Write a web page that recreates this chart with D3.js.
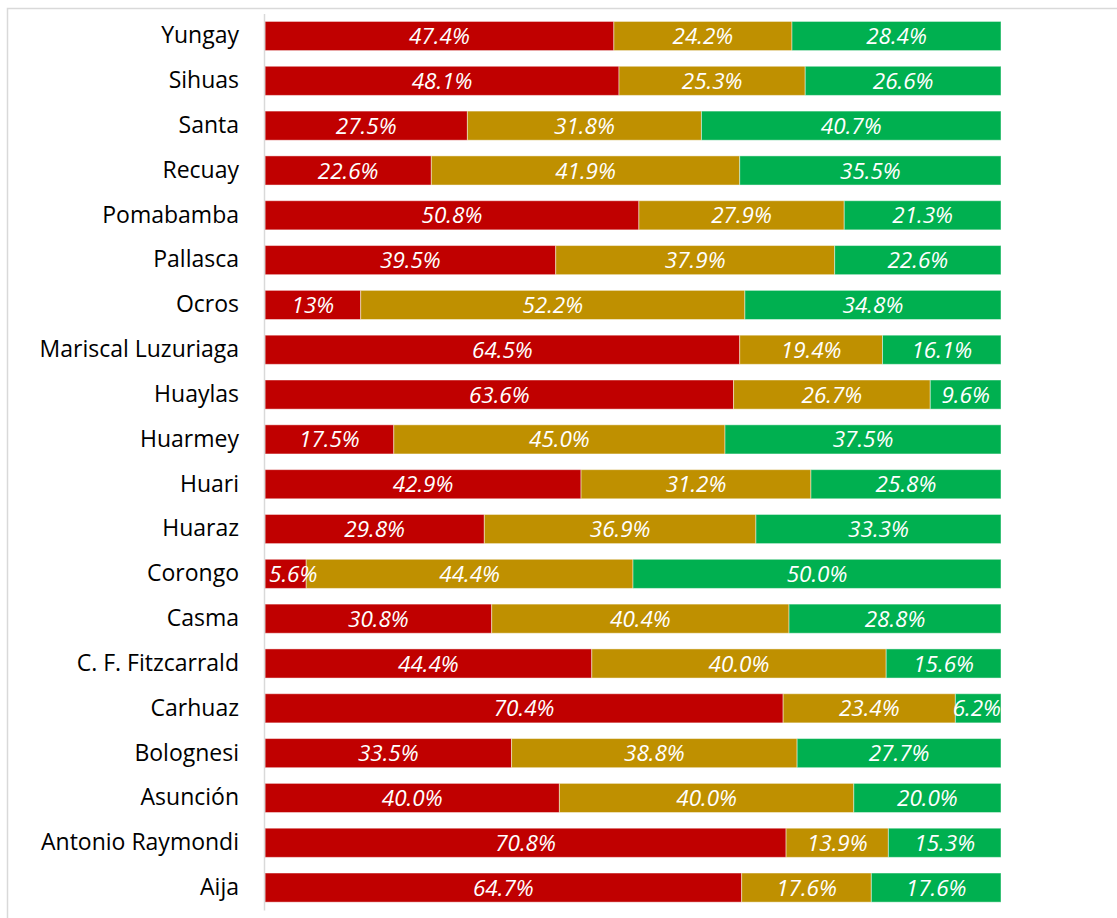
<!DOCTYPE html>
<html>
<head>
<meta charset="utf-8">
<script src="https://cdn.jsdelivr.net/npm/d3@7"></script>
<style>
  body { margin: 0; background: #fff; }
  svg { display: block; }
</style>
</head>
<body>
<svg id="chart"></svg>
<script>
// provinces, top to bottom
var provinces = ["Yungay", "Sihuas", "Santa", "Recuay", "Pomabamba", "Pallasca", "Ocros",
  "Mariscal Luzuriaga", "Huaylas", "Huarmey", "Huari", "Huaraz", "Corongo", "Casma",
  "C. F. Fitzcarrald", "Carhuaz", "Bolognesi", "Asunción", "Antonio Raymondi", "Aija"];

var redValues   = [47.4, 48.1, 27.5, 22.6, 50.8, 39.5, 13,   64.5, 63.6, 17.5, 42.9, 29.8, 5.6,  30.8, 44.4, 70.4, 33.5, 40.0, 70.8, 64.7];
var goldValues  = [24.2, 25.3, 31.8, 41.9, 27.9, 37.9, 52.2, 19.4, 26.7, 45.0, 31.2, 36.9, 44.4, 40.4, 40.0, 23.4, 38.8, 40.0, 13.9, 17.6];
var greenValues = [28.4, 26.6, 40.7, 35.5, 21.3, 22.6, 34.8, 16.1, 9.6,  37.5, 25.8, 33.3, 50.0, 28.8, 15.6, 6.2,  27.7, 20.0, 15.3, 17.6];

// labels printed without a decimal
var wholeLabels = ["13"];

var seriesKeys = ["red", "gold", "green"];
var seriesColors = ["#c00000", "#bf9000", "#00b050"];

var width = 1117, height = 918;
var svg = d3.select("#chart").attr("width", width).attr("height", height);

// chart area frame
svg.append("rect")
  .attr("x", 7.5).attr("y", 8.5)
  .attr("width", width + 10).attr("height", height + 10)
  .attr("fill", "none").attr("stroke", "#d9d9d9").attr("stroke-width", 1.5);

var rows = provinces.map(function (p, i) {
  return { name: p, red: redValues[i], gold: goldValues[i], green: greenValues[i] };
});

var stack = d3.stack().keys(seriesKeys).offset(d3.stackOffsetExpand);
var series = stack(rows);

var x = d3.scaleLinear().domain([0, 1]).range([265, 1001]);
var y = d3.scaleBand().domain(provinces).range([13.6, 910]).paddingInner(0.35).paddingOuter(0.175);

var groups = svg.selectAll("g.series")
  .data(series)
  .enter().append("g")
  .attr("class", "series")
  .attr("fill", function (d, i) { return seriesColors[i]; });

groups.selectAll("rect")
  .data(function (d) { return d; })
  .enter().append("rect")
  .attr("x", function (d) { return x(d[0]); })
  .attr("y", function (d) { return y(d.data.name); })
  .attr("width", function (d) { return x(d[1]) - x(d[0]); })
  .attr("height", y.bandwidth())
  .attr("stroke", "#fff").attr("stroke-opacity", 0.45).attr("stroke-width", 1);

function fmt(v) {
  var s = String(v);
  if (wholeLabels.indexOf(s) >= 0) return s + "%";
  return v.toFixed(1) + "%";
}

// labels go on top of every bar
var labelLayer = svg.append("g").attr("class", "labels");
series.forEach(function (s) {
  labelLayer.append("g").selectAll("text")
    .data(s)
    .enter().append("text")
    .attr("y", function (d) { return y(d.data.name) + y.bandwidth() / 2; })
    .attr("dy", "0.36em")
    .attr("text-anchor", "middle")
    .attr("fill", "#fff")
    .style("font-family", "'Open Sans', sans-serif")
    .style("font-style", "italic")
    .style("font-size", "22.5px")
    .text(function (d) { return fmt(d.data[s.key]); })
    .attr("x", function (d) {
      // keep labels inside the plot area, like Excel does
      var half = this.getComputedTextLength() / 2;
      var cx = (x(d[0]) + x(d[1])) / 2;
      cx = Math.max(cx, x.range()[0] + 4 + half);
      cx = Math.min(cx, x.range()[1] - half);
      return cx;
    });
});

// category axis
var yAxis = svg.append("g")
  .attr("transform", "translate(264,0)")
  .call(d3.axisLeft(y).tickSize(0).tickPadding(25));
yAxis.select(".domain").attr("stroke", "#d9d9d9").attr("stroke-width", 1.5);
yAxis.selectAll("text")
  .attr("fill", "#000")
  .style("font-family", "'Open Sans', sans-serif")
  .style("font-size", "23px");
</script>
</body>
</html>
